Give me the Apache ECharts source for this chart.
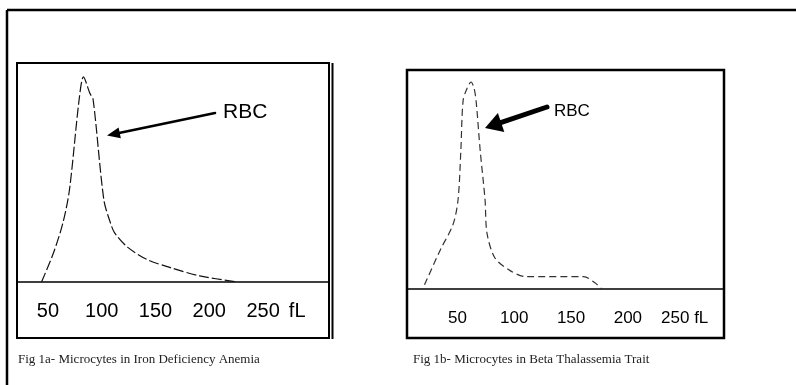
<!DOCTYPE html>
<html><head><meta charset="utf-8">
<script src="https://cdn.jsdelivr.net/npm/echarts@6/dist/echarts.min.js"></script>
<style>html,body{margin:0;padding:0;background:#fff}#c{width:796px;height:385px}</style>
</head><body><div id="c"></div>
<script>
// Fig 1a - Iron deficiency anemia RBC histogram (cell volume fL, relative count)
const ironVolume = [44, 55, 64, 70, 79, 83, 89, 92, 102, 108, 112, 124, 142, 164, 191, 226];
const ironCount  = [0, 14, 29, 45, 89, 100, 92, 89, 40, 29, 24, 17, 11, 7, 3, 0];
// Fig 1b - Beta thalassemia trait RBC histogram
const thalVolume = [21, 35, 46, 50.5, 53, 55, 58.5, 62, 64.6, 66.4, 70, 74.3, 76, 83, 96, 110, 161, 171, 177];
const thalCount  = [2, 19, 31, 43, 67, 91, 97, 100, 97, 91, 67, 43, 27, 15, 9, 6, 6, 3, 0];
const tickValues = [50, 100, 150, 200, 250];
const tickUnit = 'fL';
const captions = ['Fig 1a- Microcytes in Iron Deficiency Anemia', 'Fig 1b- Microcytes in Beta Thalassemia Trait'];
const peakLabel = 'RBC';

function arrow(tail, tip, headLen, headHalf, shaftW) {
  const dx = tip[0] - tail[0], dy = tip[1] - tail[1];
  const L = Math.hypot(dx, dy), ux = dx / L, uy = dy / L;
  const bx = tip[0] - ux * headLen, by = tip[1] - uy * headLen;
  const nx = -uy, ny = ux;
  return [
    { type: 'line', shape: { x1: tail[0], y1: tail[1], x2: bx + ux * 2, y2: by + uy * 2 },
      style: { stroke: '#000', lineWidth: shaftW, lineCap: 'round' } },
    { type: 'polygon', shape: { points: [tip, [bx + nx * headHalf, by + ny * headHalf], [bx - nx * headHalf, by - ny * headHalf]] },
      style: { fill: '#000' } }
  ];
}

const chart = echarts.init(document.getElementById('c'), null, { renderer: 'canvas' });
const sans = "'Liberation Sans', Arial, sans-serif";
const serif = "'Liberation Serif', 'Times New Roman', serif";

chart.setOption({
  animation: false,
  backgroundColor: '#fff',
  title: [
    { text: captions[0], left: 18, top: 353, padding: 0,
      textStyle: { fontFamily: serif, fontSize: 13, fontWeight: 'normal', color: '#222' } },
    { text: captions[1], left: 413, top: 353, padding: 0,
      textStyle: { fontFamily: serif, fontSize: 13, fontWeight: 'normal', color: '#222' } }
  ],
  grid: [
    { left: 17, top: 63, width: 312, height: 219, show: false },
    { left: 407, top: 70, width: 317, height: 219, show: false }
  ],
  xAxis: [
    { gridIndex: 0, type: 'value', min: 21.2, max: 311.4,
      axisLine: { onZero: false, lineStyle: { color: '#000', width: 1.5 } },
      axisTick: { show: false }, splitLine: { show: false },
      axisLabel: { customValues: tickValues, margin: 19, fontSize: 20, color: '#000', fontFamily: sans,
        formatter: v => v === 250 ? '{a|' + v + '}{b|' + tickUnit + '}' : String(v),
        rich: { a: { fontSize: 20, fontFamily: sans, color: '#000', padding: [0, 0, 0, 26] },
                b: { fontSize: 20, fontFamily: sans, color: '#000', padding: [0, 0, 0, 9] } } } },
    { gridIndex: 1, type: 'value', min: 5.6, max: 284.6,
      axisLine: { onZero: false, lineStyle: { color: '#000', width: 1.5 } },
      axisTick: { show: false }, splitLine: { show: false },
      axisLabel: { customValues: tickValues, margin: 21, fontSize: 17, color: '#000', fontFamily: sans,
        formatter: v => v === 250 ? v + ' ' + tickUnit : String(v) } }
  ],
  yAxis: [
    { gridIndex: 0, type: 'value', min: 0, max: 106.8, show: false },
    { gridIndex: 1, type: 'value', min: 0, max: 105.8, show: false }
  ],
  series: [
    { type: 'line', xAxisIndex: 0, yAxisIndex: 0, symbol: 'none', smooth: 0.3,
      data: ironVolume.map((x, i) => [x, ironCount[i]]),
      lineStyle: { color: '#111', width: 1.2, type: [10, 3] } },
    { type: 'line', xAxisIndex: 1, yAxisIndex: 1, symbol: 'none', smooth: 0.3,
      data: thalVolume.map((x, i) => [x, thalCount[i]]),
      lineStyle: { color: '#333', width: 1.2, type: [7, 4] } }
  ],
  graphic: [
    { type: 'line', shape: { x1: 7, y1: 10, x2: 796, y2: 10 }, style: { stroke: '#000', lineWidth: 2.5 } },
    { type: 'line', shape: { x1: 7, y1: 10, x2: 7, y2: 385 }, style: { stroke: '#000', lineWidth: 2.5 } },
    { type: 'rect', shape: { x: 17, y: 63, width: 312, height: 275 }, style: { fill: 'none', stroke: '#000', lineWidth: 2 } },
    { type: 'line', shape: { x1: 332.5, y1: 63, x2: 332.5, y2: 339 }, style: { stroke: '#000', lineWidth: 2 } },
    { type: 'rect', shape: { x: 407, y: 70, width: 317, height: 268 }, style: { fill: 'none', stroke: '#000', lineWidth: 2.5 } },
    ...arrow([215, 113], [107, 135.5], 13, 5.5, 2.6),
    ...arrow([547, 107], [485, 128], 17, 10, 5),
    { type: 'text', left: 223, top: 102, style: { text: peakLabel, font: "21px 'Liberation Sans', Arial, sans-serif", fill: '#000' } },
    { type: 'text', left: 554, top: 103, style: { text: peakLabel, font: "17px 'Liberation Sans', Arial, sans-serif", fill: '#000' } }
  ]
});
</script>
</body></html>
